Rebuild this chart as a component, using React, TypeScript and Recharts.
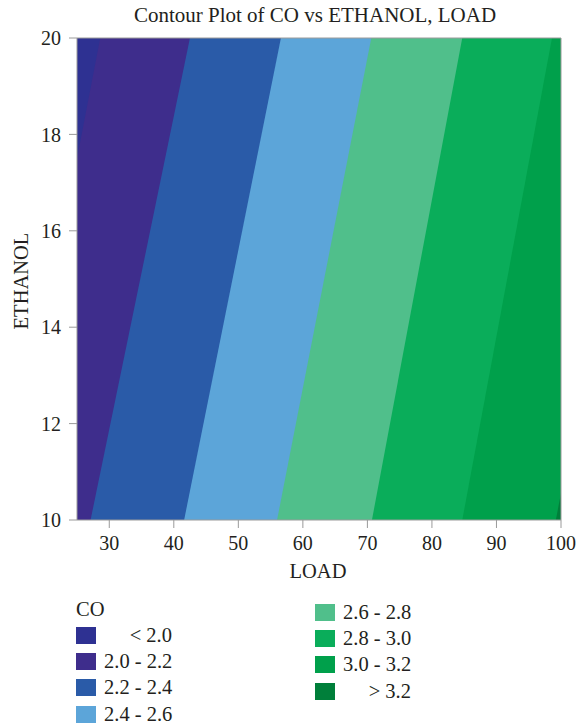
import React from "react";
import {
  ComposedChart,
  Area,
  XAxis,
  YAxis,
  ReferenceLine,
} from "recharts";

// contour boundaries: region left of each line has CO below the level
const lineBelow20 = [
  { ethanol: 17.5, load: 25 },
  { ethanol: 20, load: 28.6 },
];
const lineBelow22 = [
  { ethanol: 10, load: 27.1 },
  { ethanol: 20, load: 42.5 },
];
const lineBelow24 = [
  { ethanol: 10, load: 41.6 },
  { ethanol: 20, load: 56.6 },
];
const lineBelow26 = [
  { ethanol: 10, load: 56.0 },
  { ethanol: 20, load: 70.6 },
];
const lineBelow28 = [
  { ethanol: 10, load: 70.7 },
  { ethanol: 20, load: 84.7 },
];
const lineBelow30 = [
  { ethanol: 10, load: 84.7 },
  { ethanol: 20, load: 98.6 },
];
const lineBelow32 = [
  { ethanol: 10, load: 99.2 },
  { ethanol: 10.56, load: 100 },
  { ethanol: 20, load: 100 },
];
const fullRange = [
  { ethanol: 10, load: 100 },
  { ethanol: 20, load: 100 },
];

const bandLabels = [
  "< 2.0",
  "2.0 - 2.2",
  "2.2 - 2.4",
  "2.4 - 2.6",
  "2.6 - 2.8",
  "2.8 - 3.0",
  "3.0 - 3.2",
  "> 3.2",
];
const bandColors = [
  "#2E3192",
  "#3E2D8C",
  "#2A5BA8",
  "#5CA5D9",
  "#50BF8B",
  "#0AAD5A",
  "#00A04B",
  "#007F3A",
];

const xTicks = [30, 40, 50, 60, 70, 80, 90, 100];
const yTicks = [10, 12, 14, 16, 18, 20];

const FONT = "'Liberation Serif', 'Times New Roman', serif";
const TEXT = "#231F20";
const AXIS = "#9A9A9A";

// painted from the top band down, each one covering the left part of the previous
const layers = [
  { data: fullRange, color: bandColors[7] },
  { data: lineBelow32, color: bandColors[6] },
  { data: lineBelow30, color: bandColors[5] },
  { data: lineBelow28, color: bandColors[4] },
  { data: lineBelow26, color: bandColors[3] },
  { data: lineBelow24, color: bandColors[2] },
  { data: lineBelow22, color: bandColors[1] },
  { data: lineBelow20, color: bandColors[0] },
];

function LegendItem({ label, color, top, left }: any) {
  const boundary = label.startsWith("<") || label.startsWith(">");
  return (
    <div style={{ position: "absolute", top, left, height: 16 }}>
      <div
        style={{
          position: "absolute",
          left: 0,
          top: 0,
          width: 20,
          height: 17,
          background: color,
        }}
      />
      <div
        style={{
          position: "absolute",
          left: 28,
          top: 0,
          width: 68,
          textAlign: boundary ? "right" : "left",
          fontSize: 20.5,
          lineHeight: "16px",
          whiteSpace: "nowrap",
          color: TEXT,
        }}
      >
        {label}
      </div>
    </div>
  );
}

export default function App() {
  return (
    <div
      style={{
        position: "absolute",
        left: 0,
        top: 0,
        width: 576,
        height: 725,
        background: "#fff",
        fontFamily: FONT,
      }}
    >
      <div
        style={{
          position: "absolute",
          top: 3,
          left: 0,
          width: 630,
          textAlign: "center",
          fontSize: 21,
          color: TEXT,
        }}
      >
        Contour Plot of CO vs ETHANOL, LOAD
      </div>

      <ComposedChart
        width={576}
        height={560}
        layout="vertical"
        margin={{ top: 38, right: 15, left: 0, bottom: 0 }}
        style={{ position: "absolute", top: 0, left: 0 }}
      >
        <XAxis
          type="number"
          dataKey="load"
          domain={[25, 100]}
          ticks={xTicks}
          allowDataOverflow
          height={40}
          tickSize={8}
          tickMargin={8}
          stroke={AXIS}
          tick={{ fill: TEXT, fontSize: 20, fontFamily: FONT }}
        />
        <YAxis
          type="number"
          dataKey="ethanol"
          domain={[10, 20]}
          ticks={yTicks}
          reversed
          allowDataOverflow
          width={77}
          tickSize={8}
          tickMargin={8}
          stroke={AXIS}
          tick={{ fill: TEXT, fontSize: 20, fontFamily: FONT }}
        />
        {layers.map((layer, i) => (
          <Area
            key={i}
            data={layer.data}
            dataKey="load"
            type="linear"
            baseValue={25}
            fill={layer.color}
            fillOpacity={1}
            stroke="none"
            dot={false}
            activeDot={false}
            isAnimationActive={false}
          />
        ))}
        <ReferenceLine y={20} stroke={AXIS} strokeWidth={1} />
        <ReferenceLine x={100} stroke={AXIS} strokeWidth={1} />
      </ComposedChart>

      <div
        style={{
          position: "absolute",
          top: 560,
          left: 0,
          width: 636,
          textAlign: "center",
          fontSize: 20.5,
          color: TEXT,
        }}
      >
        LOAD
      </div>
      <div
        style={{
          position: "absolute",
          left: 21,
          top: 281,
          transform: "translate(-50%, -50%) rotate(-90deg)",
          fontSize: 20.5,
          color: TEXT,
          whiteSpace: "nowrap",
        }}
      >
        ETHANOL
      </div>

      <div
        style={{
          position: "absolute",
          left: 76,
          top: 598,
          fontSize: 20.5,
          color: TEXT,
        }}
      >
        CO
      </div>
      {bandLabels.slice(0, 4).map((label, i) => (
        <LegendItem
          key={label}
          label={label}
          color={bandColors[i]}
          top={627 + i * 26.2}
          left={76}
        />
      ))}
      {bandLabels.slice(4).map((label, i) => (
        <LegendItem
          key={label}
          label={label}
          color={bandColors[i + 4]}
          top={604 + i * 26.2}
          left={315}
        />
      ))}
    </div>
  );
}
